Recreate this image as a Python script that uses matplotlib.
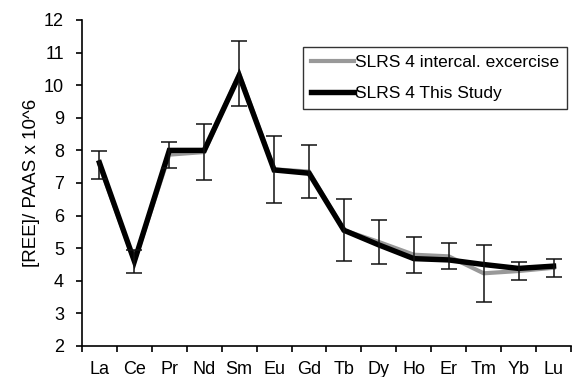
import numpy as np
import matplotlib.pyplot as plt

plt.rcParams['font.family'] = ['Liberation Sans', 'DejaVu Sans']

elements = ['La', 'Ce', 'Pr', 'Nd', 'Sm', 'Eu', 'Gd', 'Tb', 'Dy', 'Ho', 'Er', 'Tm', 'Yb', 'Lu']
intercal = [7.55, 4.60, 7.87, 7.95, 10.35, 7.42, 7.35, 5.55, 5.19, 4.80, 4.75, 4.23, 4.30, 4.40]
intercal_err = [0.42, 0.35, 0.40, 0.85, 1.00, 1.03, 0.82, 0.95, 0.67, 0.55, 0.40, 0.87, 0.28, 0.27]
this_study = [7.62, 4.60, 8.00, 8.00, 10.30, 7.40, 7.30, 5.55, 5.10, 4.68, 4.64, 4.50, 4.38, 4.45]

fig = plt.figure(figsize=(5.72, 3.77), dpi=100)
ax = fig.add_axes([82/572, 1-346/377, (571-82)/572, (346-20)/377])

x = np.arange(len(elements))
ax.plot(x, intercal, color='#999999', lw=3.0, solid_joinstyle='miter', label='SLRS 4 intercal. excercise', zorder=2)
ax.plot(x, this_study, color='black', lw=3.9, solid_joinstyle='miter', label='SLRS 4 This Study', zorder=3)
ax.errorbar(x, intercal, yerr=intercal_err, fmt='none', ecolor='#111111', elinewidth=1.1,
            capsize=6, capthick=1.1, zorder=4)

ax.set_xlim(-0.5, len(elements)-0.5)
ax.set_ylim(2, 12)
ax.set_yticks(range(2, 13))
ax.set_xticks(x)
ax.set_xticklabels(elements)
ax.set_xticks(np.arange(-0.5, len(elements)), minor=True)
ax.tick_params(axis='x', which='major', length=0, labelsize=13, pad=11)
ax.tick_params(axis='x', which='minor', length=4, width=1.2)
ax.tick_params(axis='y', length=4, width=1.2, labelsize=13, pad=9)
ax.spines['top'].set_visible(False)
ax.spines['right'].set_visible(False)
for s in ['left', 'bottom']:
    ax.spines[s].set_linewidth(1.2)
ax.set_ylabel('[REE]/ PAAS x 10^6', fontsize=13.5, labelpad=3)

leg = ax.legend(loc='upper left', bbox_to_anchor=(303/572, 1-47/377), bbox_transform=fig.transFigure,
                fontsize=12.5, frameon=True, fancybox=False, handlelength=2.5, handletextpad=0.05,
                borderpad=0.45, labelspacing=0.9, borderaxespad=0)
leg.get_frame().set_edgecolor('black')
leg.get_frame().set_linewidth(1)

plt.savefig('out.png', dpi=100)
